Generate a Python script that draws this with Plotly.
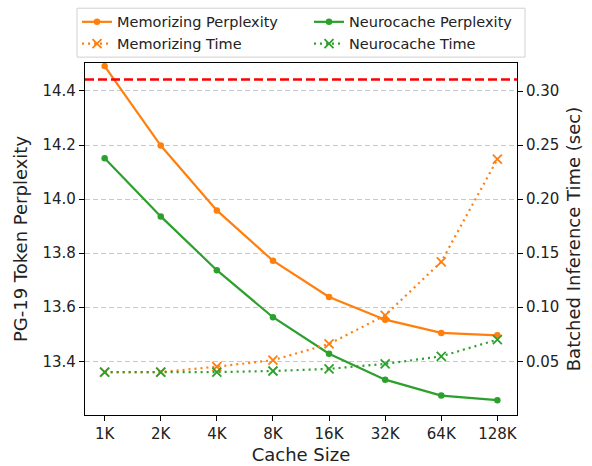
import plotly.graph_objects as go

cache_sizes = ["1K", "2K", "4K", "8K", "16K", "32K", "64K", "128K"]
memorizing_perplexity = [14.492, 14.198, 13.958, 13.772, 13.638, 13.554, 13.505, 13.496]
neurocache_perplexity = [14.151, 13.936, 13.737, 13.563, 13.428, 13.332, 13.273, 13.256]
memorizing_time = [0.040, 0.040, 0.045, 0.051, 0.066, 0.0925, 0.142, 0.237]
neurocache_time = [0.040, 0.040, 0.040, 0.041, 0.043, 0.0476, 0.0546, 0.070]
baseline_perplexity = 14.442
left_ticks = [13.4, 13.6, 13.8, 14.0, 14.2, 14.4]
right_ticks = [0.05, 0.10, 0.15, 0.20, 0.25, 0.30]

ORANGE = "#ff7f0e"
GREEN = "#2ca02c"
FONT = "DejaVu Sans"

fig = go.Figure()
fig.add_trace(go.Scatter(x=cache_sizes, y=memorizing_perplexity, name="Memorizing Perplexity",
                         mode="lines+markers", line=dict(color=ORANGE, width=2.2),
                         marker=dict(symbol="circle", size=6.5, color=ORANGE), yaxis="y", legend="legend"))
fig.add_trace(go.Scatter(x=cache_sizes, y=memorizing_time, name="Memorizing Time",
                         mode="lines+markers", line=dict(color=ORANGE, width=2.2, dash="2px,4px"),
                         marker=dict(symbol="x-thin", size=9, color=ORANGE, line=dict(color=ORANGE, width=1.8)),
                         yaxis="y2", legend="legend"))
fig.add_trace(go.Scatter(x=cache_sizes, y=neurocache_perplexity, name="Neurocache Perplexity",
                         mode="lines+markers", line=dict(color=GREEN, width=2.2),
                         marker=dict(symbol="circle", size=6.5, color=GREEN), yaxis="y", legend="legend2"))
fig.add_trace(go.Scatter(x=cache_sizes, y=neurocache_time, name="Neurocache Time",
                         mode="lines+markers", line=dict(color=GREEN, width=2.2, dash="2px,4px"),
                         marker=dict(symbol="x-thin", size=9, color=GREEN, line=dict(color=GREEN, width=1.8)),
                         yaxis="y2", legend="legend2"))

fig.add_shape(type="line", xref="paper", x0=0, x1=1, yref="y", y0=baseline_perplexity, y1=baseline_perplexity,
              line=dict(color="#ff0000", width=2.5, dash="9px,4px"))
# legend frame
fig.add_shape(type="rect", xref="paper", yref="paper", x0=-0.0185, x1=1.0185, y0=1.0167, y1=1.1557,
              line=dict(color="#d0d0d0", width=1), fillcolor="white", layer="above")

legend_common = dict(orientation="v", yanchor="top", xanchor="left", borderwidth=0,
                     bgcolor="rgba(0,0,0,0)", itemwidth=30, tracegroupgap=0,
                     font=dict(family=FONT, size=14.5, color="#222222"))

fig.update_layout(
    width=592, height=466,
    margin=dict(l=85, r=75, t=63, b=51, autoexpand=False),
    paper_bgcolor="white", plot_bgcolor="white",
    font=dict(family=FONT, size=15, color="#222222"),
    showlegend=True,
    legend=dict(x=-0.0185, y=1.1622, **legend_common),
    legend2=dict(x=0.5185, y=1.1622, **legend_common),
    xaxis=dict(type="category", range=[-0.35, 7.35], showline=True, mirror=True, linecolor="black",
               linewidth=1.2, ticks="outside", ticklen=5, tickcolor="black", showgrid=False,
               title=dict(text="Cache Size", standoff=6), automargin=False),
    yaxis=dict(range=[13.2013, 14.5034], tickvals=left_ticks, tickformat=".1f",
               showline=True, mirror=True, linecolor="black", linewidth=1.2,
               ticks="outside", ticklen=5, tickcolor="black",
               showgrid=True, gridcolor="#c8c8c8", gridwidth=1, griddash="5px,3px", zeroline=False,
               title=dict(text="PG-19 Token Perplexity", standoff=10), automargin=False),
    yaxis2=dict(range=[0.0003, 0.3259], tickvals=right_ticks, tickformat=".2f",
                overlaying="y", side="right", showline=False,
                ticks="outside", ticklen=5, tickcolor="black", showgrid=False, zeroline=False,
                title=dict(text="Batched Inference Time (sec)", standoff=8), automargin=False),
)

post = ("document.body.style.margin='0px';"
        "var d=document.getElementById('{plot_id}');"
        "d.style.position='absolute';d.style.top='0px';d.style.left='0px';")
fig.write_html("out.html", post_script=post, config={"displayModeBar": False})
